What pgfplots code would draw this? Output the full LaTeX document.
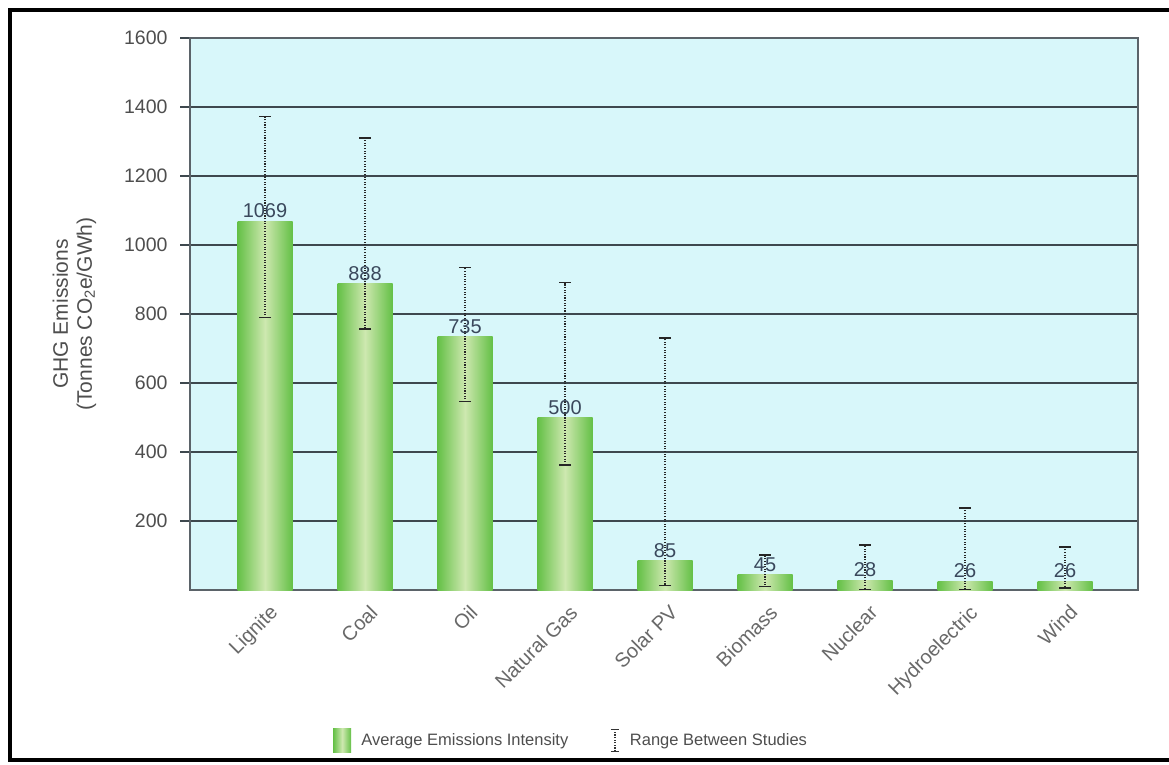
\documentclass[border=0pt]{standalone}
\usepackage{fontspec}
\setmainfont{Liberation Sans}
\usepackage{pgfplots}
\usepackage{pgfplotstable}
\pgfplotsset{compat=1.18}
\definecolor{bgc}{RGB}{216,247,250}
\definecolor{gridc}{RGB}{62,72,78}
\definecolor{barE}{RGB}{100,192,70}
\definecolor{barM}{RGB}{206,232,176}
\definecolor{labc}{RGB}{58,72,92}
\definecolor{txtc}{RGB}{78,78,78}

\pgfplotstableread{
x y ep em
0 1069 303 279
1 888 422 132
2 735 200 188
3 500 391 138
4 85 646 72
5 45 56 35
6 28 102 26
7 26 211 24
8 26 98 20
}\data

\begin{document}
\begin{tikzpicture}[x=1pt,y=1pt]
\useasboundingbox (0,0) rectangle (1169,764);
\fill[white] (0,0) rectangle (1169,764);
\draw[black, line width=4pt] (10,4) rectangle (1185,754);
\begin{axis}[
  at={(190pt,174pt)}, anchor=south west,
  scale only axis, width=948pt, height=552pt,
  xmin=-0.75, xmax=8.73, ymin=0, ymax=1600,
  ytick={200,400,...,1600},
  xtick={0,...,8},
  xticklabels={Lignite,Coal,Oil,Natural Gas,Solar PV,Biomass,Nuclear,Hydroelectric,Wind},
  x tick label style={rotate=45, anchor=north east, font=\fontsize{20}{22}\selectfont, text=txtc!85, inner sep=1pt, xshift=1pt, yshift=-4pt},
  major x tick style={draw=none},
  ytick pos=left,
  ymajorgrids, grid style={gridc, line width=1.8pt},
  y tick label style={font=\fontsize{19.5}{22}\selectfont, text=txtc, xshift=-9pt},
  /pgf/number format/1000 sep={},
  tick align=outside, major tick length=10pt,
  ytick style={gridc, line width=1.2pt},
  axis line style={gridc!85, line width=1.8pt},
  axis background/.style={fill=bgc},
  /pgf/number format/assume math mode=true,
  ylabel={GHG Emissions\\(Tonnes CO\textsubscript{2}e/GWh)},
  every axis y label/.style={at={(axis description cs:-0.122,0.5)}, rotate=90, anchor=center, align=center, font=\fontsize{21}{24}\selectfont, text=txtc},
  legend style={at={(axis description cs:0.402,-0.272)}, anchor=center, draw=none, fill=none, legend columns=2, font=\fontsize{16.5}{19}\selectfont, text=txtc, /tikz/every even column/.append style={column sep=40pt}, legend cell align=left},
  barstyle/.style={ybar, bar width=0.55, bar shift=0pt, draw=none, left color=barE, right color=barE, middle color=barM},
]
\addlegendimage{legend image code/.code={\path[draw=none, left color=barE, right color=barE, middle color=barM] (0pt,-12pt) rectangle (18pt,12pt); \path (26pt,0pt);}}
\addlegendentry{Average Emissions Intensity}
\pgfplotsinvokeforeach{0,...,8}{
\addplot[barstyle, forget plot,
  nodes near coords,
  every node near coord/.append style={font=\fontsize{20}{22}\selectfont, text=labc, anchor=south, inner sep=3pt}]
  table[x=x,y=y, restrict x to domain=#1:#1]{\data};
}
\addplot[draw=none, mark=none,
  error bars/.cd, y dir=both, y explicit,
  error bar style={draw=black!85, dash pattern=on 1.1pt off 1.5pt, dash phase=0.6pt, line width=1.2pt},
  error mark options={draw=black!85, solid, line width=1.5pt, mark size=6pt, rotate=90},
  /pgfplots/legend image code/.code={\draw[black!80, dash pattern=on 1.1pt off 1.5pt, line width=1.2pt] (4pt,-11pt) -- (4pt,11pt); \draw[black!80, line width=1.2pt] (0pt,11pt)--(8pt,11pt) (0pt,-11pt)--(8pt,-11pt); \path (17pt,0pt);}]
  table[x=x,y=y,y error plus=ep,y error minus=em]{\data};
\addlegendentry{Range Between Studies}
\end{axis}
\end{tikzpicture}
\end{document}
